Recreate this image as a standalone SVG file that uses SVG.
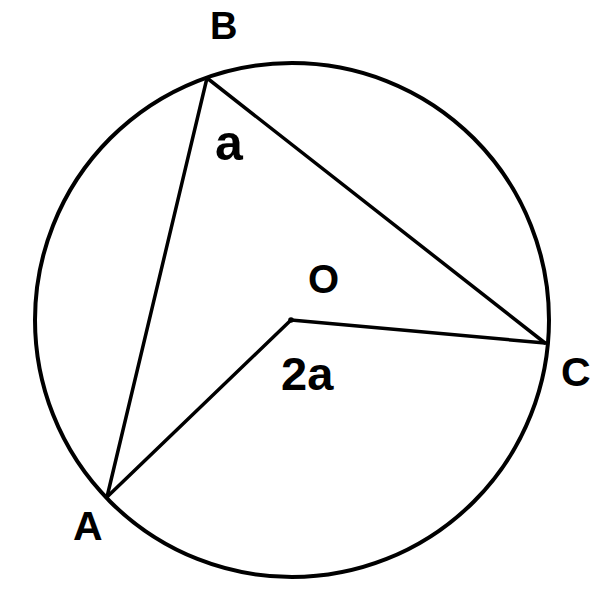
<svg xmlns="http://www.w3.org/2000/svg" width="605" height="600" viewBox="0 0 605 600">
<style>
.s{fill:none;stroke:#000;stroke-linecap:round;stroke-linejoin:round}
.l{font-family:"Liberation Sans",Arial,sans-serif;font-weight:bold;fill:#000}
</style>
<rect width="605" height="600" fill="#fff"/>
<circle id="circle" class="s" cx="292" cy="320" r="257" stroke-width="4"/>
<g id="connectors" class="s" stroke-width="3.5">
<line x1="207" y1="78" x2="107" y2="497"/>
<line x1="207" y1="78" x2="545" y2="343"/>
<line x1="291" y1="320" x2="545" y2="343"/>
<line x1="291" y1="320" x2="107" y2="497"/>
</g>
<g id="O"><circle cx="291" cy="320" r="2.8" fill="#000"/><text class="l" x="308" y="293" font-size="40">O</text></g>
<g id="B"><text class="l" x="210" y="39" font-size="38">B</text></g>
<g id="C"><text class="l" x="561" y="386" font-size="41">C</text></g>
<g id="A"><text class="l" x="73" y="540" font-size="41">A</text></g>
<g id="angleB"><text class="l" x="215" y="160" font-size="50">a</text></g>
<g id="angleO"><text class="l" x="281" y="390" font-size="47">2a</text></g>
</svg>
